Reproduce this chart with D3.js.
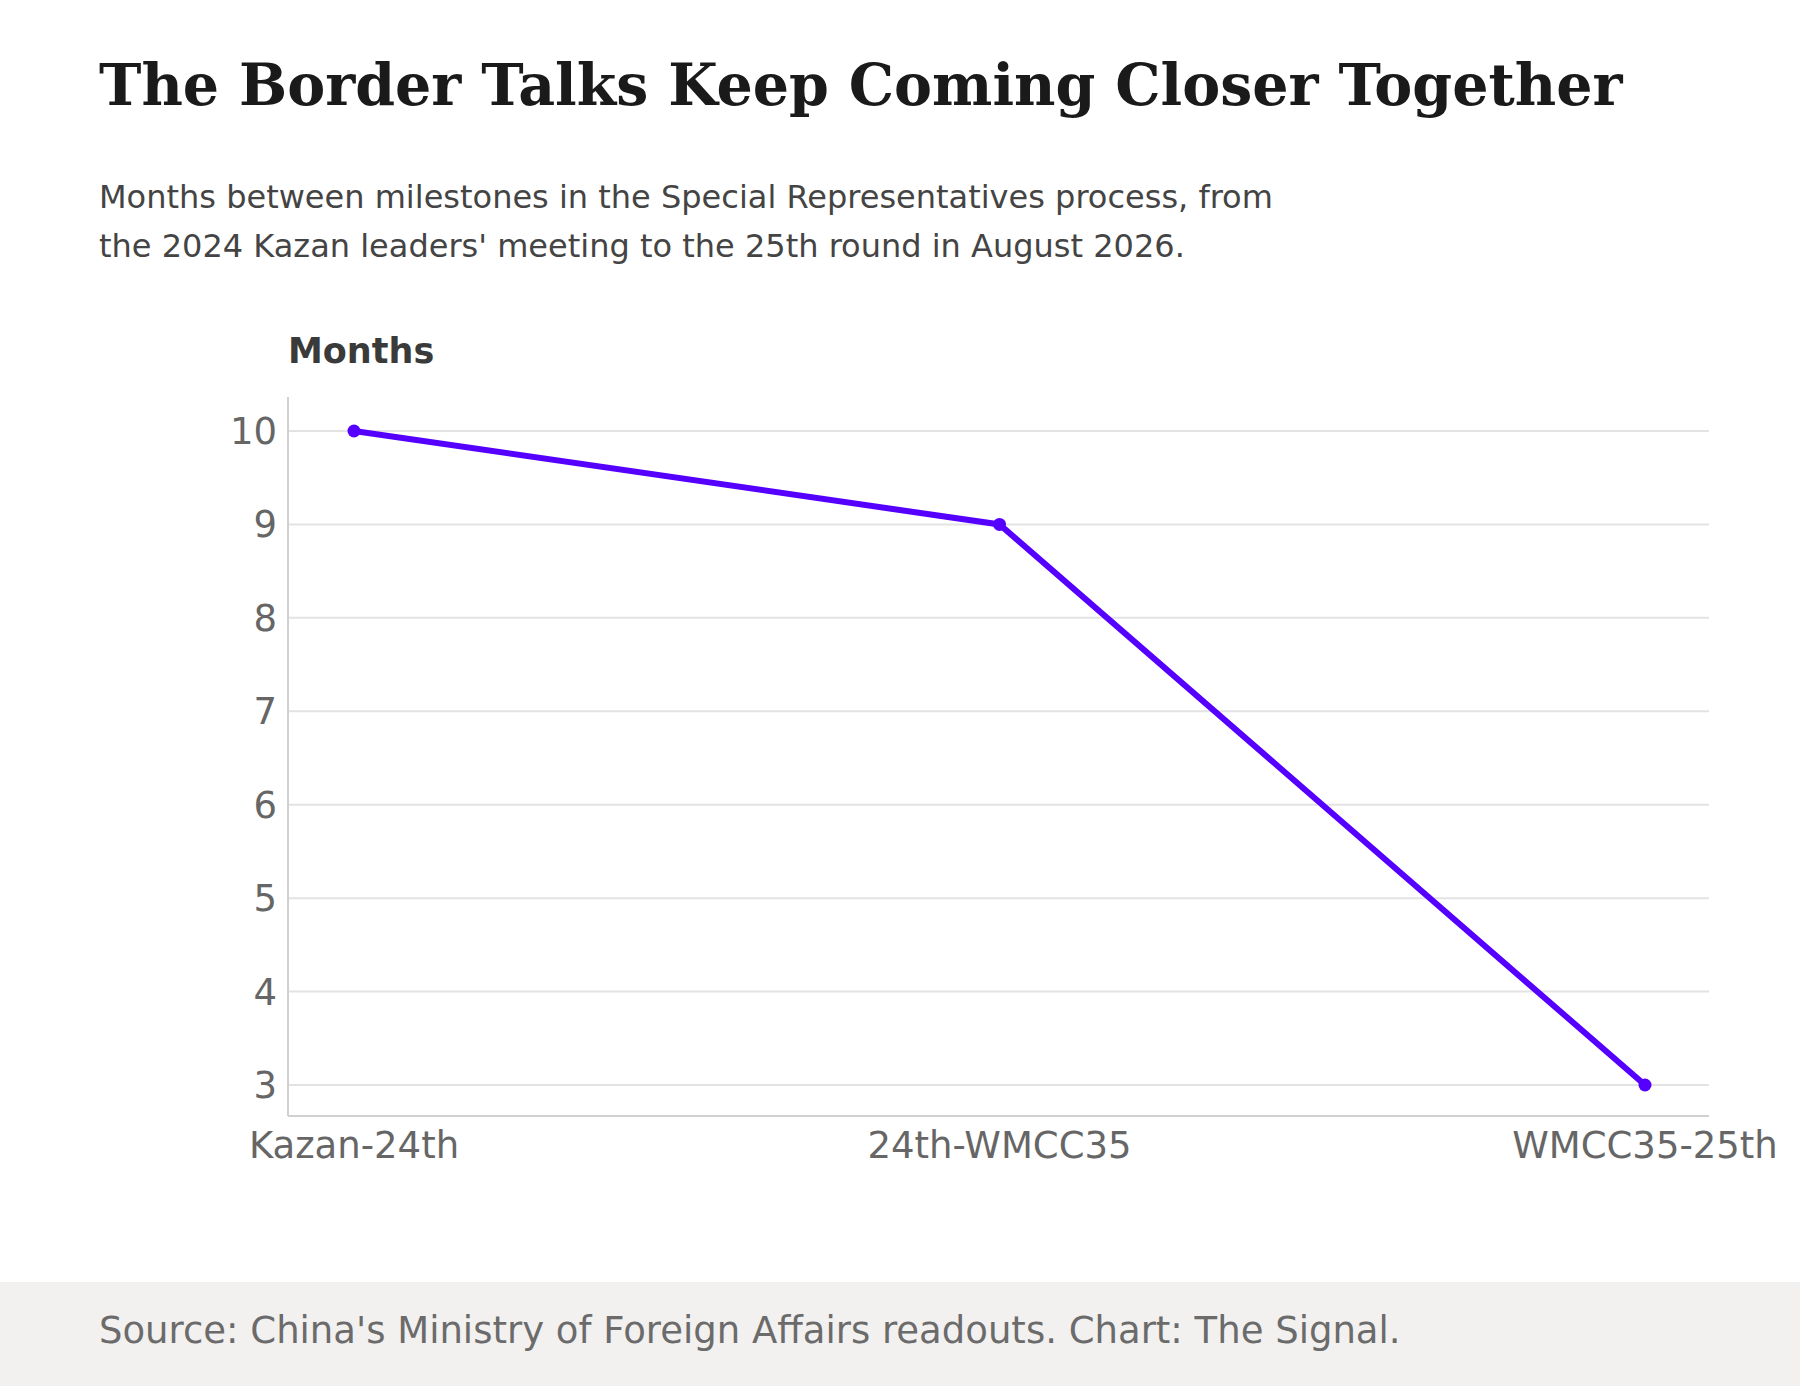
<!DOCTYPE html>
<html><head><meta charset="utf-8">
<script src="https://cdn.jsdelivr.net/npm/d3@7"></script>
<style>body{margin:0;background:#fff}</style>
</head><body>
<script>
const categories = ["Kazan-24th","24th-WMCC35","WMCC35-25th"];
const months = [10, 9, 3];
const yTicks = [3,4,5,6,7,8,9,10];

(function(){
const W=1800,H=1386;
const svg=d3.select("body").append("svg").attr("width",W).attr("height",H);
svg.append("rect").attr("width",W).attr("height",H).attr("fill","#fff");
svg.append("rect").attr("x",0).attr("y",1282).attr("width",W).attr("height",H-1282).attr("fill","#f2f1f0");

const sans="'DejaVu Sans', sans-serif";
svg.append("text").attr("x",99).attr("y",105).attr("font-family","'DejaVu Serif', serif").attr("font-weight","bold").attr("font-size",57).attr("fill","#1a1a1a").text("The Border Talks Keep Coming Closer Together");
[["Months between milestones in the Special Representatives process, from",208],["the 2024 Kazan leaders' meeting to the 25th round in August 2026.",257]].forEach(([t,yy])=>
  svg.append("text").attr("x",99).attr("y",yy).attr("font-family",sans).attr("font-size",32).attr("fill","#444").text(t));
svg.append("text").attr("x",288).attr("y",363).attr("font-family",sans).attr("font-weight","bold").attr("font-size",35).attr("fill","#3a3a3a").text("Months");
svg.append("text").attr("x",99).attr("y",1343).attr("font-family",sans).attr("font-size",37).attr("fill","#6b6b6b").text("Source: China's Ministry of Foreign Affairs readouts. Chart: The Signal.");

const x=d3.scalePoint().domain(categories).range([354,1645]);
const y=d3.scaleLinear().domain([3,10]).range([1085,431]);
const pL=288,pR=1709,pT=397,pB=1116;

const g=svg.append("g");
yTicks.forEach(t=>{
  g.append("line").attr("x1",pL).attr("x2",pR).attr("y1",y(t)).attr("y2",y(t)).attr("stroke","#e3e3e3").attr("stroke-width",2);
  g.append("text").attr("x",277).attr("y",y(t)).attr("dy","0.35em").attr("text-anchor","end").attr("font-family",sans).attr("font-size",37).attr("fill","#666").text(t);
});
g.append("line").attr("x1",pL).attr("x2",pL).attr("y1",pT).attr("y2",pB).attr("stroke","#d0d0d0").attr("stroke-width",2);
g.append("line").attr("x1",pL).attr("x2",pR).attr("y1",pB).attr("y2",pB).attr("stroke","#d0d0d0").attr("stroke-width",2);
categories.forEach(c=>g.append("text").attr("x",x(c)).attr("y",1158).attr("text-anchor","middle").attr("font-family",sans).attr("font-size",37).attr("fill","#666").text(c));

const data=categories.map((c,i)=>({c,v:months[i]}));
g.append("path").datum(data).attr("fill","none").attr("stroke","#5500ff").attr("stroke-width",6)
  .attr("d",d3.line().x(d=>x(d.c)).y(d=>y(d.v)));
g.selectAll("circle.p").data(data).join("circle").attr("cx",d=>x(d.c)).attr("cy",d=>y(d.v)).attr("r",6.5).attr("fill","#5500ff");
})();
</script>
</body></html>
